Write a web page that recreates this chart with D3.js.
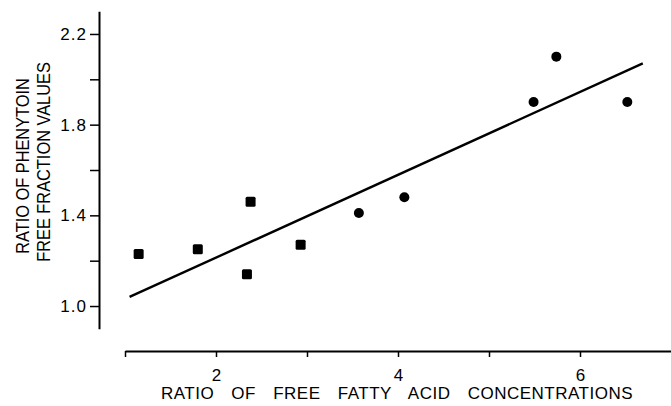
<!DOCTYPE html>
<html>
<head>
<meta charset="utf-8">
<script src="https://cdn.jsdelivr.net/npm/d3@7"></script>
<style>
  html, body { margin: 0; padding: 0; background: #fff; }
  svg { display: block; }
  text { font-family: "Liberation Sans", Arial, sans-serif; fill: #000; }
</style>
</head>
<body>
<svg id="chart" width="671" height="406"></svg>
<script>
// ---- data ----
const squareX = [1.15, 1.80, 2.38, 2.34, 2.93];
const squareY = [1.23, 1.25, 1.46, 1.14, 1.27];
const circleX = [3.57, 4.07, 5.49, 5.74, 6.52];
const circleY = [1.41, 1.48, 1.90, 2.10, 1.90];
const fitX = [1.05, 6.69];
const fitY = [1.04, 2.07];
const xTicks = [1, 2, 3, 4, 5, 6];
const xTickLabels = ["", "2", "", "4", "", "6"];
const yTicks = [1.0, 1.2, 1.4, 1.6, 1.8, 2.0, 2.2];
const yTickLabels = ["1.0", "", "1.4", "", "1.8", "", "2.2"];
const xTitle = "RATIO OF FREE FATTY ACID CONCENTRATIONS";
const yTitle1 = "RATIO OF PHENYTOIN";
const yTitle2 = "FREE FRACTION VALUES";

const svg = d3.select("#chart");

const x = d3.scaleLinear().domain([1, 7.0]).range([125, 671]);
const y = d3.scaleLinear().domain([0.9, 2.3]).range([328.7, 11.3]);

// y axis
const yAxis = d3.axisLeft(y)
  .tickValues(yTicks)
  .tickFormat((d, i) => yTickLabels[i])
  .tickSize(9)
  .tickSizeOuter(0)
  .tickPadding(3);
const gy = svg.append("g").attr("transform", "translate(99,0)").call(yAxis);
gy.select(".domain").attr("stroke-width", 2);
gy.selectAll(".tick line").attr("stroke-width", 1.5);
gy.selectAll(".tick text").attr("font-size", 17).style("letter-spacing", "1px");

// x axis
const xAxis = d3.axisBottom(x)
  .tickValues(xTicks)
  .tickFormat((d, i) => xTickLabels[i])
  .tickSize(6)
  .tickSizeOuter(0)
  .tickPadding(12);
const gx = svg.append("g").attr("transform", "translate(0,351)").call(xAxis);
gx.select(".domain").attr("stroke-width", 2);
gx.selectAll(".tick line").attr("stroke-width", 1.5);
gx.selectAll(".tick text").attr("font-size", 17);

// regression line
const fit = fitX.map((v, i) => [v, fitY[i]]);
svg.append("path")
  .datum(fit)
  .attr("d", d3.line().x(d => x(d[0])).y(d => y(d[1])))
  .attr("fill", "none")
  .attr("stroke", "#000")
  .attr("stroke-width", 2.4);

// squares
const sq = squareX.map((v, i) => [v, squareY[i]]);
const s = 10;
svg.append("g").selectAll("rect").data(sq).join("rect")
  .attr("x", d => x(d[0]) - s / 2)
  .attr("y", d => y(d[1]) - s / 2)
  .attr("width", s).attr("height", s)
  .attr("rx", 1.5)
  .attr("fill", "#000");

// circles
const ci = circleX.map((v, i) => [v, circleY[i]]);
svg.append("g").selectAll("circle").data(ci).join("circle")
  .attr("cx", d => x(d[0]))
  .attr("cy", d => y(d[1]))
  .attr("r", 5)
  .attr("fill", "#000");

// axis titles
svg.append("text")
  .attr("x", 397).attr("y", 399)
  .attr("text-anchor", "middle")
  .attr("font-size", 17)
  .style("letter-spacing", "0.5px")
  .style("word-spacing", "12px")
  .text(xTitle);

svg.append("text")
  .attr("transform", "translate(29,166) rotate(-90) scale(0.91,1)")
  .attr("text-anchor", "middle")
  .attr("font-size", 18)
  .text(yTitle1);

svg.append("text")
  .attr("transform", "translate(50,162) rotate(-90) scale(0.91,1)")
  .attr("text-anchor", "middle")
  .attr("font-size", 18)
  .text(yTitle2);
</script>
</body>
</html>
